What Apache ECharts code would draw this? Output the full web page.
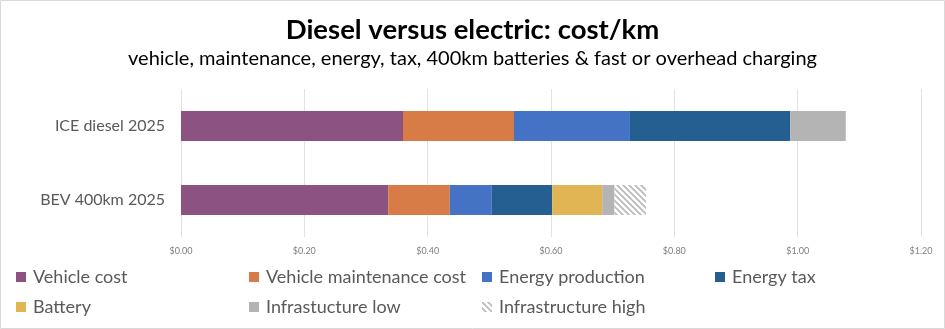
<!DOCTYPE html>
<html><head><meta charset="utf-8">
<script src="https://cdn.jsdelivr.net/npm/echarts@6/dist/echarts.min.js"></script>
<style>html,body{margin:0;padding:0;background:#fff}#c{width:945px;height:329px}</style>
</head><body><div id="c"></div>
<script>
const categories = ['ICE diesel 2025', 'BEV 400km 2025'];
const vehicleCost = [0.360, 0.336];
const maintenanceCost = [0.180, 0.100];
const energyProduction = [0.188, 0.068];
const energyTax = [0.260, 0.098];
const battery = [null, 0.081];
const infraLow = [0.090, 0.020];
const infraHigh = [null, 0.051];
const xTicks = [0, 0.2, 0.4, 0.6, 0.8, 1.0, 1.2];

function hatch() {
  const c = document.createElement('canvas');
  c.width = 6; c.height = 6;
  const g = c.getContext('2d');
  g.fillStyle = '#fff'; g.fillRect(0, 0, 6, 6);
  g.strokeStyle = '#b8b8b8'; g.lineWidth = 1.6;
  g.beginPath();
  g.moveTo(-1, -1); g.lineTo(7, 7);
  g.moveTo(-4, 2); g.lineTo(4, 10);
  g.moveTo(2, -4); g.lineTo(10, 4);
  g.stroke();
  return {image: c, repeat: 'repeat'};
}
const hatchFill = hatch();

const seriesDefs = [
  ['Vehicle cost', vehicleCost, '#8c5382'],
  ['Vehicle maintenance cost', maintenanceCost, '#d77c47'],
  ['Energy production', energyProduction, '#4472c4'],
  ['Energy tax', energyTax, '#255e91'],
  ['Battery', battery, '#e1b454'],
  ['Infrastucture low', infraLow, '#b4b4b4'],
  ['Infrastructure high', infraHigh, hatchFill]
];

const legendPos = [
  [16, 267], [249, 267], [482, 267], [715, 267],
  [16, 297], [249, 297], [482, 297]
];

const font = 'Lato, "Open Sans", sans-serif';
const chart = echarts.init(document.getElementById('c'), null, {renderer: 'canvas'});
chart.setOption({
  animation: false,
  title: [
    {text: 'Diesel versus electric: cost/km', left: 'center', top: 11,
     textStyle: {fontFamily: font, fontSize: 27.5, fontWeight: 'bold', color: '#000'}},
    {text: 'vehicle, maintenance, energy, tax, 400km batteries & fast or overhead charging', left: 'center', top: 44,
     textStyle: {fontFamily: font, fontSize: 20, fontWeight: 'normal', color: '#000'}}
  ],
  grid: {left: 181, right: 24, top: 89, bottom: 92},
  xAxis: {
    type: 'value', min: 0, max: 1.2, interval: 0.2,
    axisLine: {show: false}, axisTick: {show: false},
    splitLine: {lineStyle: {color: '#e2e2e2', width: 1}},
    axisLabel: {fontFamily: font, fontSize: 9, color: '#7f7f7f', margin: 10,
      formatter: v => '$' + v.toFixed(2)}
  },
  yAxis: {
    type: 'category', data: categories, inverse: true,
    axisLine: {show: false}, axisTick: {show: false},
    axisLabel: {fontFamily: font, fontSize: 16, color: '#595959', margin: 16}
  },
  legend: seriesDefs.map((d, i) => ({
    data: [d[0]], left: legendPos[i][0], top: legendPos[i][1], padding: 0,
    itemWidth: 10, itemHeight: 10, itemGap: 0,
    textStyle: {fontFamily: font, fontSize: 18, lineHeight: 20, color: '#595959', padding: [0, 0, 0, 2]},
    icon: 'rect'
  })),
  series: seriesDefs.map(d => ({
    name: d[0], type: 'bar', stack: 'total', data: d[1], barWidth: 30,
    itemStyle: {color: d[2]}
  })),
  graphic: [{type: 'rect', shape: {x: 0.5, y: 0.5, width: 944, height: 328},
    style: {fill: 'none', stroke: '#d9d9d9', lineWidth: 1}, silent: true}]
});
</script></body></html>
